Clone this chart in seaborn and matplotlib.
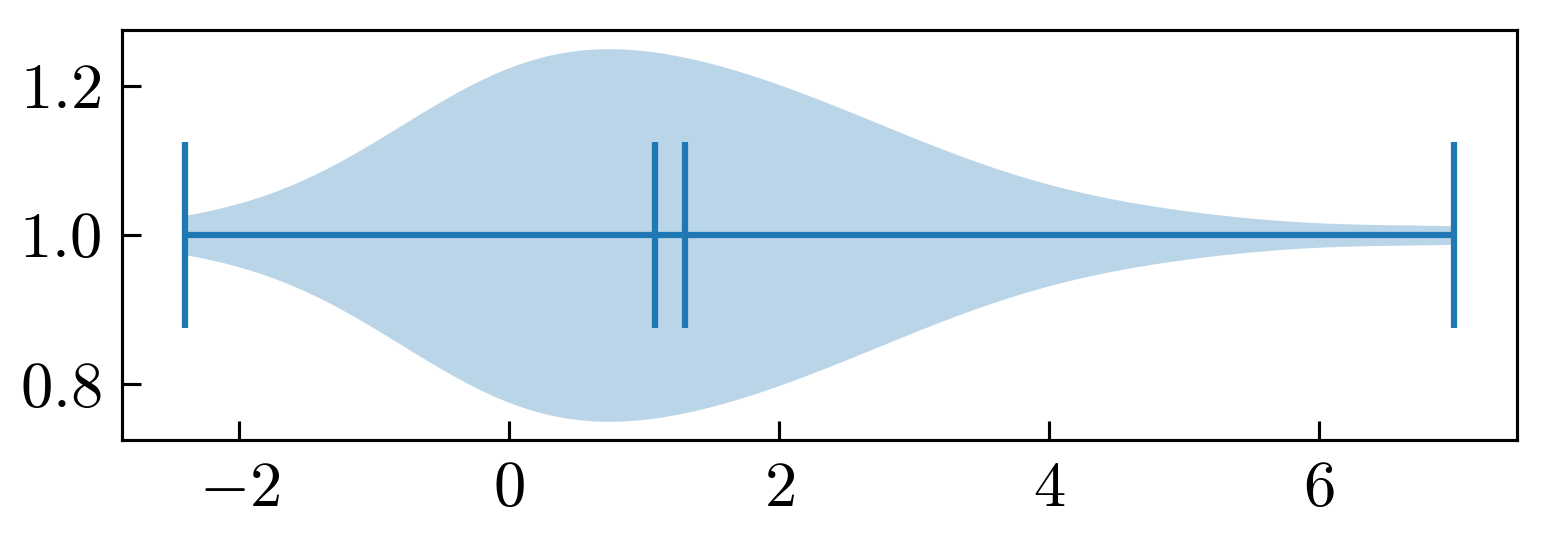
import numpy as np
import pandas as pd
import matplotlib
matplotlib.use("Agg")
import matplotlib.pyplot as plt
from matplotlib.ticker import MultipleLocator
import seaborn as sns

# ── Data ───────────────────────────────────────────────────────────
# sample behind the violin, estimated from the drawn density, extremes,
# mean (~1.30) and median (~1.08)
values = [
    -2.40, -1.50, -1.06, -0.84, -0.70, -0.60, -0.49, -0.38, -0.28, -0.18,
    -0.09, -0.01, 0.07, 0.15, 0.23, 0.31, 0.38, 0.45, 0.53, 0.60,
    0.68, 0.76, 0.84, 0.93, 1.03, 1.13, 1.21, 1.30, 1.39, 1.48,
    1.57, 1.66, 1.75, 1.84, 1.95, 2.07, 2.18, 2.29, 2.40, 2.54,
    2.69, 2.84, 2.98, 3.18, 3.42, 3.70, 4.06, 4.58, 5.33, 7.00,
]
position = [1.0] * len(values)

COLOR = "#1f77b4"
WIDTH = 0.5

# ── Style ──────────────────────────────────────────────────────────
sns.set_style("ticks")
plt.rcParams.update({
    "font.family": "serif",
    "font.serif": ["cmr10"],
    "mathtext.fontset": "cm",
    "axes.formatter.use_mathtext": True,
    "axes.linewidth": 0.75,
    "axes.edgecolor": "black",
    "xtick.direction": "in",
    "ytick.direction": "in",
    "xtick.major.size": 4.6,
    "ytick.major.size": 4.6,
    "xtick.major.width": 0.75,
    "ytick.major.width": 0.75,
    "xtick.major.pad": 5,
    "ytick.major.pad": 5,
    "xtick.labelsize": 15.5,
    "ytick.labelsize": 15.5,
    "xtick.color": "black",
    "ytick.color": "black",
})

fig = plt.figure(figsize=(1547 / 300, 541 / 300), dpi=300)
ax = fig.add_axes([0.0789, 0.1867, 0.9017, 0.7578])

df = pd.DataFrame({"value": values, "position": position})
sns.violinplot(
    data=df, x="value", y="position", orient="y", native_scale=True,
    inner=None, cut=0, width=WIDTH, color=COLOR, saturation=1,
    linewidth=0, alpha=0.3, ax=ax,
)

# extrema / mean / median bars, like matplotlib's violinplot
lo, hi = np.min(values), np.max(values)
mean, median = np.mean(values), np.median(values)
pos = position[0]
ax.hlines(pos, lo, hi, color=COLOR, lw=1.5)
ax.vlines([lo, hi, mean, median], pos - WIDTH / 4, pos + WIDTH / 4, color=COLOR, lw=1.5)

ax.xaxis.set_major_locator(MultipleLocator(2))
ax.yaxis.set_major_locator(MultipleLocator(0.2))
ax.set_xlabel("")
ax.set_ylabel("")

fig.savefig("out.png", dpi=300)
